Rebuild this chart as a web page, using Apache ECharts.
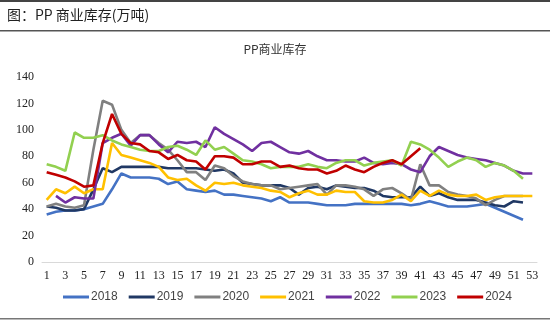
<!DOCTYPE html>
<html>
<head>
<meta charset="utf-8">
<script src="https://cdn.jsdelivr.net/npm/echarts@6/dist/echarts.min.js"></script>
<style>html,body{margin:0;padding:0;background:#fff;}#c{width:550px;height:321px;}</style>
</head>
<body>
<div id="c"></div>
<script>
var weeks = ['1','2','3','4','5','6','7','8','9','10','11','12','13','14','15','16','17','18','19','20','21','22','23','24','25','26','27','28','29','30','31','32','33','34','35','36','37','38','39','40','41','42','43','44','45','46','47','48','49','50','51','52','53'];
var yearNames = ['2018','2019','2020','2021','2022','2023','2024'];
var s2018 = [36,38,39,39,40,42,44,55,67,64,64,64,63,59,61,55,54,53,54,51,51,50,49,48,46,49,45,45,45,44,43,43,43,44,44,44,44,44,44,43,44,46,44,42,42,42,43,44,41,38,35,32];
var s2019 = [42,41,39,39,40,55,71,68,72,72,72,72,72,71,71,71,71,70,69,70,67,60,59,58,58,58,56,51,56,57,55,58,57,56,56,54,50,49,49,49,57,50,52,49,47,47,47,45,43,42,46,45];
var s2020 = [42,44,42,41,43,85,122,119,100,90,96,96,90,85,77,68,68,62,73,71,65,61,59,58,58,55,56,57,58,59,51,58,58,57,55,50,55,56,52,47,74,58,58,53,51,50,48,43,47,50,50,50];
var s2021 = [47,55,52,57,52,55,55,90,81,79,77,75,72,64,62,63,58,54,60,59,60,58,57,56,54,53,49,52,54,51,51,54,53,53,46,45,45,47,51,46,54,50,54,51,50,50,51,47,49,50,50,50,50];
var s2022 = [null,50,45,49,48,48,90,94,97,88,96,96,89,83,91,90,91,87,102,97,93,89,84,90,91,87,83,82,84,80,77,77,76,76,79,75,74,75,74,70,68,80,87,84,81,79,78,77,75,73,69,67,67];
var s2023 = [74,72,69,98,94,94,96,92,89,87,85,84,84,87,88,85,81,92,85,87,82,77,76,74,71,72,72,72,74,72,71,75,77,77,73,75,76,77,73,91,89,85,79,72,76,79,77,72,75,73,69,63];
var s2024 = [68,66,64,61,57,58,90,112,97,90,89,84,83,78,81,77,76,70,80,80,79,74,74,76,76,72,73,71,70,70,67,69,73,70,68,72,75,77,74,80,86];
var yearData = [s2018,s2019,s2020,s2021,s2022,s2023,s2024];
var colors = ['#4472C4','#203864','#808080','#FFC000','#7030A0','#92D050','#C00000'];

var chart = echarts.init(document.getElementById('c'), null, {renderer:'canvas'});
var series = yearNames.map(function(n,i){
  return {name:n,type:'line',data:yearData[i],symbol:'none',smooth:false,
    lineStyle:{width:2.6,color:colors[i]},itemStyle:{color:colors[i]},z:2+i,animation:false};
});
chart.setOption({
  animation:false,
  backgroundColor:'#fff',
  title:[{text:'PP商业库存',left:'center',top:38,textStyle:{fontFamily:'Noto Sans CJK SC',fontSize:12,fontWeight:'normal',color:'#333'}}],
  graphic:[
    {type:'text',left:7,top:8,style:{text:'图：PP 商业库存(万吨)',font:'14px "Noto Sans CJK SC"',fill:'#222'}},
    {type:'rect',shape:{x:0,y:0,width:550,height:2},style:{fill:'#444'}},
    {type:'rect',shape:{x:0,y:30,width:550,height:1.5},style:{fill:'#555'}},
    {type:'rect',shape:{x:0,y:318,width:550,height:1.5},style:{fill:'#777'}}
  ],
  grid:{left:42,right:13,top:77,bottom:59,containLabel:false},
  legend:{bottom:13,left:58,itemWidth:26,itemHeight:3,itemGap:11,icon:'rect',
    textStyle:{fontFamily:'Liberation Sans',fontSize:12,color:'#444',padding:[0,0,0,-3]},data:yearNames},
  xAxis:{type:'category',data:weeks,boundaryGap:true,
    axisLine:{lineStyle:{color:'#d9d9d9',width:1}},axisTick:{show:false},
    axisLabel:{interval:1,color:'#222',fontFamily:'Liberation Serif',fontSize:12,margin:8}},
  yAxis:{type:'value',min:0,max:140,interval:20,
    axisLine:{show:false},axisTick:{show:false},splitLine:{show:false},
    axisLabel:{color:'#222',fontFamily:'Liberation Serif',fontSize:12,margin:8}},
  series:series
});
</script>
</body>
</html>
